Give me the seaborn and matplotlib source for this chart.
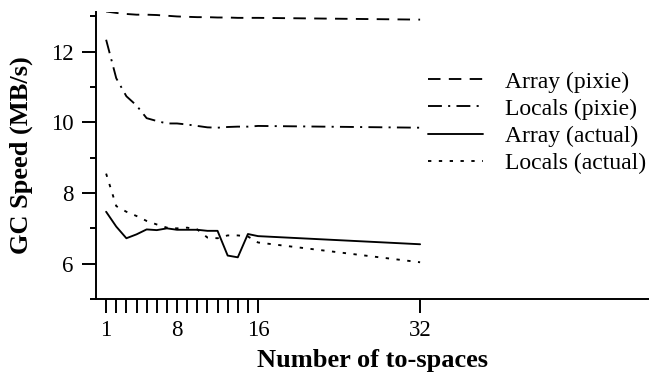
import matplotlib
matplotlib.use("Agg")
import matplotlib.pyplot as plt
import seaborn as sns
import pandas as pd

# ---- data ----
x_spaces = [1, 2, 3, 4, 5, 6, 7, 8, 9, 10, 11, 12, 13, 14, 15, 16, 32]
array_pixie = [13.14, 13.10, 13.07, 13.05, 13.05, 13.04, 13.02, 13.00, 12.99, 12.98,
               12.98, 12.97, 12.97, 12.96, 12.96, 12.96, 12.91]
locals_pixie = [12.34, 11.25, 10.74, 10.48, 10.12, 10.04, 9.97, 9.97, 9.94, 9.90,
                9.86, 9.85, 9.87, 9.88, 9.88, 9.90, 9.85]
array_actual = [7.47, 7.05, 6.72, 6.83, 6.97, 6.95, 7.00, 6.96, 6.96, 6.96,
                6.93, 6.93, 6.23, 6.18, 6.84, 6.78, 6.55]
locals_actual = [8.55, 7.63, 7.47, 7.35, 7.21, 7.11, 7.02, 7.00, 7.02, 6.97,
                 6.74, 6.72, 6.80, 6.80, 6.77, 6.60, 6.04]
series_names = ["Array (pixie)", "Locals (pixie)", "Array (actual)", "Locals (actual)"]
x_tick_positions = list(range(1, 17)) + [32]
x_tick_labels = ["1", "", "", "", "", "", "", "8", "", "", "", "", "", "", "", "16", "32"]
y_major = [6, 8, 10, 12]
y_minor = [5, 7, 9, 11, 13]

sns.set_style("ticks")
plt.rcParams["font.family"] = ["Liberation Serif", "DejaVu Serif"]
plt.rcParams["lines.scale_dashes"] = False
plt.rcParams["text.color"] = "black"
plt.rcParams["axes.labelcolor"] = "black"
plt.rcParams["xtick.color"] = "black"
plt.rcParams["ytick.color"] = "black"

fig = plt.figure(figsize=(6.49, 3.79), dpi=100)
ax = fig.add_axes([96 / 649, 1 - 299 / 379, 553 / 649, (299 - 11.5) / 379])

styles = {
    "Array (pixie)": (0, (9, 6)),
    "Locals (pixie)": (0, (10, 4.5, 1.5, 4.5)),
    "Array (actual)": "-",
    "Locals (actual)": (0, (2.4, 5.4)),
}
values = [array_pixie, locals_pixie, array_actual, locals_actual]
for name, vals in zip(series_names, values):
    df = pd.DataFrame({"x": x_spaces, "y": vals})
    sns.lineplot(data=df, x="x", y="y", ax=ax, color="black", linewidth=1.35,
                 linestyle=styles[name], label=name)

ax.set_xlim(0, 54.6)
ax.set_ylim(5, 13.14)
ax.set_xticks(x_tick_positions)
ax.set_xticklabels(x_tick_labels)
ax.set_yticks(y_major)
ax.set_yticks(y_minor, minor=True)
ax.tick_params(axis="both", which="major", length=10, width=1.4, labelsize=16.5, pad=6,
               color="black", labelcolor="black")
ax.tick_params(axis="x", which="major", pad=5)
ax.tick_params(axis="y", which="minor", length=4.3, width=1.4, color="black")
for s in ["top", "right"]:
    ax.spines[s].set_visible(False)
for s in ["left", "bottom"]:
    ax.spines[s].set_linewidth(1.4)
    ax.spines[s].set_color("black")

ax.set_xlabel("Number of to-spaces", fontsize=19, fontweight="bold", color="black")
ax.set_ylabel("GC Speed (MB/s)", fontsize=19, fontweight="bold", color="black")
ax.xaxis.set_label_coords(0.5, (299 - 349) / 287.5)
ax.yaxis.set_label_coords((33 - 96) / 553, 0.5)

leg = ax.legend(loc="upper left", bbox_to_anchor=(428 / 649, 1 - 71 / 379),
                bbox_transform=fig.transFigure, frameon=False, fontsize=17,
                handlelength=2.33, handletextpad=0.93, borderpad=0, borderaxespad=0,
                labelspacing=0.24)
for t in leg.get_texts():
    t.set_color("black")

fig.savefig("out.png", dpi=100)
